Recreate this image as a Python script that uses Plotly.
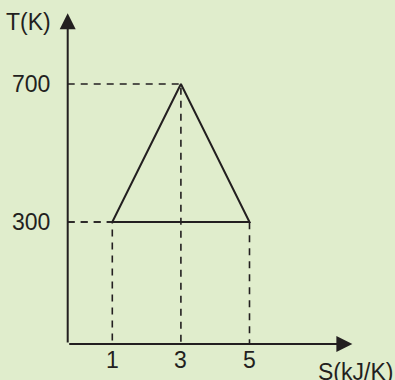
import plotly.graph_objects as go

# Cycle on the T-S diagram
cycle_s = [1, 3, 5, 1]
cycle_t = [300, 700, 300, 300]

# Tick values / labels
s_ticks = [1, 3, 5]
t_ticks = [300, 700]
x_title = "S(kJ/K)"
y_title = "T(K)"

# Axis frame (data units)
s_origin, t_origin = -0.3, -54
s_arrow, t_arrow = 8.0, 905

INK = "#231f20"
BG = "#e0edcc"
FONT = dict(family="Liberation Sans, Arial, sans-serif", size=23, color=INK)

fig = go.Figure()

# Dashed guide lines from the axes to each cycle vertex
for s, t in zip(cycle_s[:3], cycle_t[:3]):
    fig.add_trace(go.Scatter(
        x=[s_origin, s, s], y=[t, t, t_origin], mode="lines",
        line=dict(color=INK, width=1.6, dash="7px,6px"),
        hoverinfo="skip", showlegend=False))

# Cycle outline
fig.add_trace(go.Scatter(
    x=cycle_s, y=cycle_t, mode="lines",
    line=dict(color=INK, width=2), hoverinfo="skip", showlegend=False))

# Axes with arrowheads
for (x1, y1) in [(s_arrow, t_origin), (s_origin, t_arrow)]:
    fig.add_annotation(
        x=x1, y=y1, ax=s_origin, ay=t_origin, xref="x", yref="y",
        axref="x", ayref="y", text="", showarrow=True,
        arrowhead=2, arrowsize=1.6, arrowwidth=2, arrowcolor=INK)

# Tick labels
for s in s_ticks:
    fig.add_annotation(x=s, y=-100, text=str(s), showarrow=False,
                       font=FONT, xanchor="center", yanchor="middle")
for t in t_ticks:
    fig.add_annotation(x=-0.75, y=t, text=str(t), showarrow=False,
                       font=FONT, xanchor="right", yanchor="middle")

# Axis titles
fig.add_annotation(x=6.94, y=-136, text=x_title, showarrow=False,
                   font=FONT, xanchor="left", yanchor="middle")
fig.add_annotation(x=-0.74, y=880, text=y_title, showarrow=False,
                   font=FONT, xanchor="right", yanchor="middle")

fig.update_layout(
    width=395, height=380,
    margin=dict(l=0, r=0, t=0, b=0),
    paper_bgcolor=BG, plot_bgcolor=BG,
    xaxis=dict(range=[-2.274, 9.242], visible=False, fixedrange=True),
    yaxis=dict(range=[-158, 943.5], visible=False, fixedrange=True),
    showlegend=False,
)

fig.write_html("out.html")
